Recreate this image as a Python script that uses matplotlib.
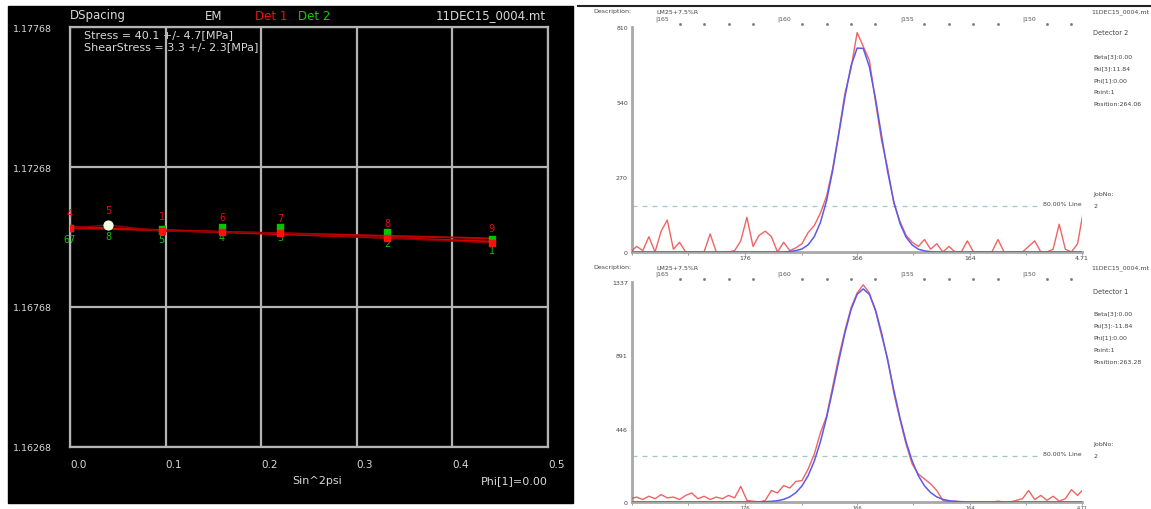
import matplotlib.pyplot as plt
from matplotlib.patches import Rectangle
from matplotlib.lines import Line2D
from matplotlib.transforms import blended_transform_factory

W, H = 1151, 510

# ---- left: d-spacing vs sin^2(psi) ----
sin2psi = [0.0, 0.04, 0.096, 0.159, 0.22, 0.332, 0.441]
d_det1 = [1.17050, 1.17061, 1.17039, 1.17036, 1.17032, 1.17014, 1.16997]
d_det2 = [1.17050, 1.17061, 1.17047, 1.17054, 1.17054, 1.17036, 1.17011]
labels_det1 = ["4", "5", "1", "6", "7", "8", "9"]
labels_det2 = ["67", "8", "5", "4", "3", "2", "1"]
fit_x = [0.0, 0.44]
fit_det1 = [1.17054, 1.17002]
fit_det2 = [1.17050, 1.17013]
d_ticks = [1.16268, 1.16768, 1.17268, 1.17768]
psi_ticks = [0.0, 0.1, 0.2, 0.3, 0.4, 0.5]

# ---- right: diffraction peaks (2theta, counts) ----
two_theta = [166.0, 165.75, 165.5, 165.25, 165.0, 164.75, 164.5, 164.25, 164.0, 163.75,
             163.5, 163.25, 163.0, 162.75, 162.5, 162.25, 162.0, 161.75, 161.5, 161.25,
             161.0, 160.75, 160.5, 160.25, 160.0, 159.75, 159.5, 159.25, 159.0, 158.75,
             158.5, 158.25, 158.0, 157.75, 157.5, 157.25, 157.0, 156.75, 156.5, 156.25,
             156.0, 155.75, 155.5, 155.25, 155.0, 154.75, 154.5, 154.25, 154.0, 153.75,
             153.5, 153.25, 153.0, 152.75, 152.5, 152.25, 152.0, 151.75, 151.5, 151.25,
             151.0, 150.75, 150.5, 150.25, 150.0, 149.75, 149.5, 149.25, 149.0, 148.75,
             148.5, 148.25, 148.0, 147.75, 147.5]

counts_det2 = [0, 20, 5, 55, 0, 75, 115, 10, 35, 0,
               0, 0, 0, 65, 0, 0, 0, 5, 40, 125,
               20, 60, 75, 55, 0, 35, 5, 15, 30, 70,
               95, 140, 200, 300, 430, 570, 660, 790, 740, 690,
               540, 400, 300, 175, 110, 60, 35, 20, 45, 10,
               30, 0, 20, 0, 0, 40, 0, 0, 0, 0,
               45, 0, 0, 0, 0, 20, 40, 0, 0, 10,
               100, 10, 0, 30, 155]
fit_det2_peak = [0, 0, 0, 0, 0, 0, 0, 0, 0, 0,
                 0, 0, 0, 0, 0, 0, 0, 0, 0, 0,
                 0, 0, 0, 0, 0, 0, 2, 5, 11, 26,
                 55, 106, 184, 292, 423, 557, 670, 734, 733, 667,
                 552, 417, 287, 180, 103, 53, 25, 10, 4, 1,
                 0, 0, 0, 0, 0, 0, 0, 0, 0, 0,
                 0, 0, 0, 0, 0, 0, 0, 0, 0, 0,
                 0, 0, 0, 0, 0]

counts_det1 = [20, 30, 15, 35, 20, 45, 25, 30, 15, 40,
               55, 20, 35, 15, 30, 20, 40, 25, 95, 10,
               5, 0, 10, 70, 55, 100, 85, 125, 130, 200,
               290, 420, 520, 700, 880, 1040, 1180, 1270, 1320, 1270,
               1160, 1010, 870, 660, 500, 350, 230, 170, 140, 110,
               70, 10, 0, 5, 0, 0, 0, 0, 0, 0,
               5, 0, 0, 10, 20, 70, 15, 40, 10, 35,
               5, 20, 75, 40, 80]
fit_det1_peak = [0, 0, 0, 0, 0, 0, 0, 0, 0, 0,
                 0, 0, 0, 0, 0, 0, 0, 0, 0, 0,
                 0, 0, 2, 4, 8, 16, 31, 57, 98, 160,
                 248, 365, 511, 679, 857, 1026, 1168, 1262, 1295, 1262,
                 1168, 1026, 857, 679, 511, 365, 248, 160, 98, 57,
                 31, 16, 8, 4, 2, 0, 0, 0, 0, 0,
                 0, 0, 0, 0, 0, 0, 0, 0, 0, 0,
                 0, 0, 0, 0, 0]

top_deg_labels = [165, 160, 155, 150]
top_deg_dots = [164, 163, 162, 161, 159, 158, 157, 156, 154, 153, 152, 151, 149, 148]
bottom_tick_pos = [165.94, 163.65, 161.33, 159.0, 156.76, 154.47, 152.14, 149.86, 147.57]
bottom_tick_lab = ["", "", "176", "", "166", "", "164", "", "4.71"]


def fx(px):
    return px / W


def fy(py):
    return 1 - py / H


fig = plt.figure(figsize=(W / 100, H / 100), dpi=100)
fig.patch.set_facecolor("white")

# black panel behind the stress plot
fig.patches.append(Rectangle((fx(8), fy(504)), 565 / W, 497 / H,
                             transform=fig.transFigure, color="black", zorder=-10))
fig.lines.append(Line2D([fx(578), 1], [fy(7), fy(7)], transform=fig.transFigure,
                        color="#222222", lw=1.5, zorder=-10))

grey = "#b4b4b4"
txt = "#d8d8d8"

ax = fig.add_axes([fx(70), fy(448), 478 / W, 420 / H], zorder=2)
ax.set_facecolor("black")
ax.set_xlim(0, 0.5)
ax.set_ylim(1.16268, 1.17768)
for s in ax.spines.values():
    s.set_color(grey)
    s.set_linewidth(1.6)
ax.set_xticks(psi_ticks)
ax.set_xticklabels(["%.1f" % v for v in psi_ticks], color=txt, fontsize=7.5, ha="left")
ax.set_yticks(d_ticks)
ax.set_yticklabels(["%.5f" % v for v in d_ticks], color=txt, fontsize=6.8)
ax.tick_params(length=0, pad=9)
ax.tick_params(axis="y", pad=13)
ax.grid(True, color=grey, lw=1.6)
ax.set_axisbelow(False)

ax.plot(fit_x, fit_det1, color="#d00000", lw=1.4, zorder=3)
ax.plot(fit_x, fit_det2, color="#c00000", lw=1.4, zorder=3)
ax.plot(sin2psi, d_det1, color="#900000", lw=1.0, zorder=3)
ax.scatter(sin2psi, d_det2, color="#00c800", marker="s", s=14, zorder=4)
ax.scatter(sin2psi, d_det1, color="#ff1010", marker="s", s=14, zorder=5)
ax.scatter(sin2psi[1], d_det1[1], color="#f4ffe0", s=40, zorder=6)
for x, y, lab in zip(sin2psi, d_det1, labels_det1):
    ax.annotate(lab, (x, y), xytext=(0, 7), textcoords="offset points",
                ha="center", va="bottom", color="#e01010", fontsize=7)
for x, y, lab in zip(sin2psi, d_det2, labels_det2):
    ax.annotate(lab, (x, y), xytext=(0, -4), textcoords="offset points",
                ha="center", va="top", color="#10c010", fontsize=7)

ax.text(0.03, 0.995, "Stress = 40.1 +/- 4.7[MPa]", transform=ax.transAxes,
        color=txt, fontsize=8, va="top", zorder=1)
ax.text(0.03, 0.967, "ShearStress = 3.3 +/- 2.3[MPa]", transform=ax.transAxes,
        color=txt, fontsize=8, va="top", zorder=1)

fig.text(fx(70), fy(16), "DSpacing", color=txt, fontsize=8.5, va="center")
fig.text(fx(205), fy(16), "EM", color=txt, fontsize=8.5, va="center")
fig.text(fx(255), fy(16), "Det 1", color="#ee1010", fontsize=8.5, va="center")
fig.text(fx(298), fy(16), "Det 2", color="#10cc10", fontsize=8.5, va="center")
fig.text(fx(546), fy(16), "11DEC15_0004.mt", color=txt, fontsize=8.5, va="center", ha="right")
fig.text(fx(292), fy(481), "Sin^2psi", color=txt, fontsize=8, va="center")
fig.text(fx(481), fy(481), "Phi[1]=0.00", color=txt, fontsize=8, va="center")


def peak_panel(rect, counts, fit, ymax, ystep_labels, line80, info, head_py, detector, xfont):
    a = fig.add_axes(rect)
    a.set_xlim(165.94, 147.57)
    a.set_ylim(0, ymax)
    for side in ("top", "right"):
        a.spines[side].set_visible(False)
    for side in ("left", "bottom"):
        a.spines[side].set_color("#a8a8a8")
        a.spines[side].set_linewidth(2)
    a.plot(two_theta, counts, color="#ee4848", lw=1.0, alpha=0.85, zorder=3)
    a.plot(two_theta, fit, color="#5a5aee", lw=1.1, zorder=4)
    a.axhline(line80, xmax=0.9, color="#9fc8c8", lw=0.9, ls=(0, (4, 4)))
    a.text(0.999, line80, "80.00% Line", transform=blended_transform_factory(a.transAxes, a.transData),
           ha="right", va="bottom", fontsize=4.5, color="#444444")
    a.set_yticks(ystep_labels)
    a.set_yticklabels([str(v) for v in ystep_labels], fontsize=4.5, color="#444444")
    a.set_xticks(bottom_tick_pos)
    a.set_xticklabels(bottom_tick_lab, fontsize=xfont, color="#444444")
    a.tick_params(axis="y", length=0, pad=3)
    a.tick_params(axis="x", length=2, width=0.6, color="#888888", pad=0.5)
    bt = blended_transform_factory(a.transData, a.transAxes)
    hpx = rect[3] * H
    for d in top_deg_labels:
        a.text(d, 1 + 9 / hpx, "|" + str(d), transform=bt, fontsize=4.5, color="#555555",
               ha="left", va="center", clip_on=False)
    a.plot(top_deg_dots, [1 + 3 / hpx] * len(top_deg_dots), transform=bt, ls="none",
           marker="s", ms=0.9, color="#777777", clip_on=False)
    fig.text(fx(593), fy(head_py), "Description:", fontsize=4.5, color="#444444", va="center")
    fig.text(fx(656), fy(head_py), "LM25+7.5%R", fontsize=4.5, color="#444444", va="center")
    fig.text(fx(1149), fy(head_py), "11DEC15_0004.mt", fontsize=4.5, color="#444444",
             va="center", ha="right")
    fig.text(fx(1093), fy(info[0]), detector, fontsize=4.8, color="#444444", va="center")
    for i, line in enumerate(["Beta[3]:0.00", info[2], "Phi[1]:0.00", "Point:1", info[3]]):
        fig.text(fx(1093), fy(info[1] + 12 * i), line, fontsize=4.5, color="#444444", va="center")
    fig.text(fx(1093), fy(info[4]), "JobNo:", fontsize=4.5, color="#444444", va="center")
    fig.text(fx(1093), fy(info[4] + 12), "2", fontsize=4.5, color="#444444", va="center")
    return a


peak_panel([fx(632), fy(253), 450 / W, 225 / H], counts_det2, fit_det2_peak, 810,
           [0, 270, 540, 810], 166, (33, 57, "Psi[3]:11.84", "Position:264.06", 195), 12,
           "Detector 2", 4.5)
peak_panel([fx(632), fy(503), 450 / W, 220 / H], counts_det1, fit_det1_peak, 1337,
           [0, 446, 891, 1337], 277, (292, 314, "Psi[3]:-11.84", "Position:263.28", 445), 268,
           "Detector 1", 3.6)

fig.savefig("out.png", dpi=100)
